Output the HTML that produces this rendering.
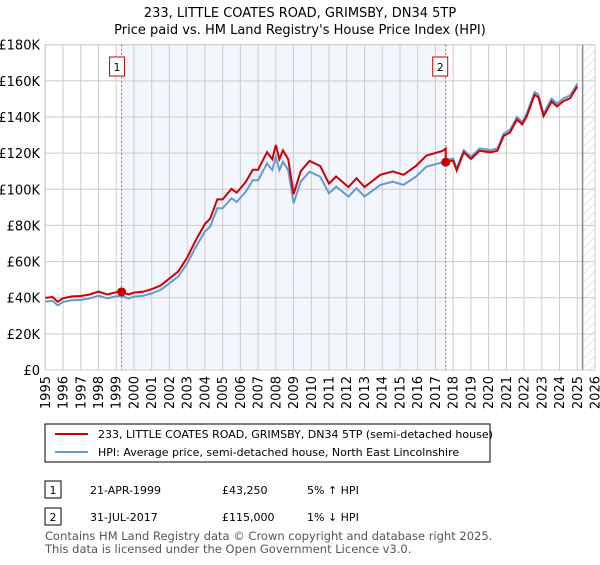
<!DOCTYPE html>
<html><head><meta charset="utf-8"><style>
body{margin:0;width:600px;height:560px;background:#fff;font-family:"Liberation Sans","DejaVu Sans",sans-serif;overflow:hidden}
svg text{font-family:"DejaVu Sans","Liberation Sans",sans-serif}
</style></head><body>
<svg id="c" width="600" height="560" xmlns="http://www.w3.org/2000/svg">
<defs><pattern id="hatch" width="6" height="6" patternUnits="userSpaceOnUse" patternTransform="rotate(45)"><line x1="0" y1="0" x2="0" y2="6" stroke="#ccc" stroke-width="1"/></pattern></defs>
<text x="300" y="17" text-anchor="middle" font-size="13">233, LITTLE COATES ROAD, GRIMSBY, DN34 5TP</text>
<text x="300" y="34" text-anchor="middle" font-size="13">Price paid vs. HM Land Registry's House Price Index (HPI)</text>
<g id="plot"></g>
<rect x="45" y="424" width="445" height="38" fill="#fff" stroke="#000" stroke-width="1"/>
<line x1="55" y1="434" x2="88" y2="434" stroke="#cc0000" stroke-width="2"/>
<text x="98" y="438" font-size="11">233, LITTLE COATES ROAD, GRIMSBY, DN34 5TP (semi-detached house)</text>
<line x1="55" y1="452" x2="88" y2="452" stroke="#6699d4" stroke-width="2"/>
<text x="98" y="456" font-size="11">HPI: Average price, semi-detached house, North East Lincolnshire</text>
<g>
<rect x="45" y="481" width="16" height="17" fill="#fff" stroke="#000"/><text x="53" y="494" text-anchor="middle" font-size="11">1</text>
<text x="90" y="494" font-size="11">21-APR-1999</text><text x="222" y="494" font-size="11">£43,250</text><text x="307" y="494" font-size="11">5% ↑ HPI</text></g>
<g>
<rect x="45" y="508" width="16" height="17" fill="#fff" stroke="#000"/><text x="53" y="521" text-anchor="middle" font-size="11">2</text>
<text x="90" y="521" font-size="11">31-JUL-2017</text><text x="222" y="521" font-size="11">£115,000</text><text x="307" y="521" font-size="11">1% ↓ HPI</text></g>
<text x="45" y="540" font-size="11.5" fill="#555">Contains HM Land Registry data © Crown copyright and database right 2025.</text>
<text x="45" y="553" font-size="11.5" fill="#555">This data is licensed under the Open Government Licence v3.0.</text>
</svg>
<script>
const hpiYears=[1995,1995.4,1995.7,1996,1996.5,1997,1997.5,1998,1998.5,1999,1999.3,1999.7,2000,2000.5,2001,2001.5,2002,2002.5,2003,2003.5,2004,2004.3,2004.7,2005,2005.5,2005.8,2006.3,2006.7,2007,2007.5,2007.8,2008,2008.2,2008.4,2008.7,2009,2009.4,2009.9,2010.5,2011,2011.4,2012.1,2012.55,2013,2013.9,2014.6,2015.2,2015.9,2016.5,2017.4,2017.58,2018,2018.2,2018.6,2019,2019.5,2020.1,2020.5,2020.85,2021.2,2021.6,2021.9,2022.15,2022.6,2022.8,2023.1,2023.55,2023.85,2024.2,2024.6,2025.0];
const hpiValues=[37.8,38.3,35.8,37.6,38.6,38.8,39.6,41.1,39.6,40.8,41.0,39.6,40.6,41.0,42.4,44.3,48,51.7,59,68.3,76.6,79.4,89.5,89.5,95,93,98.6,105,105,114.3,110.6,118,110.6,115.2,110.6,92.2,104.2,109.7,107,97.8,101.5,96,100.6,96,102.4,104.2,102.4,107,112.5,114.9,116.2,117,111.6,121.7,118,122.6,121.7,122.6,130.9,132.8,140,137.3,141.9,153.9,152.6,141.9,150.2,147.4,150.2,152,158.5];
const saleYears=[1999.3,2017.58];
const salePrices=[43.25,115];
const yTicks=[0,20,40,60,80,100,120,140,160,180];
const xTicks=[1995,1996,1997,1998,1999,2000,2001,2002,2003,2004,2005,2006,2007,2008,2009,2010,2011,2012,2013,2014,2015,2016,2017,2018,2019,2020,2021,2022,2023,2024,2025,2026];
const L=45.3,R=595,T=44.7,B=370;
const X=y=>L+(y-1995)/31*(R-L);
const Y=v=>B-v/180*(B-T);
const NS="http://www.w3.org/2000/svg";
const g=document.getElementById('plot');
function mk(t,a){const e=document.createElementNS(NS,t);for(const k in a)e.setAttribute(k,a[k]);g.appendChild(e);return e;}
function hpiAt(t){for(let i=1;i<hpiYears.length;i++){if(t<=hpiYears[i]){const f=(t-hpiYears[i-1])/(hpiYears[i]-hpiYears[i-1]);return hpiValues[i-1]+f*(hpiValues[i]-hpiValues[i-1]);}}return hpiValues[hpiValues.length-1];}
let e=mk('rect',{x:X(saleYears[0]),y:T,width:X(saleYears[1])-X(saleYears[0]),height:B-T,fill:'#eef2fc',opacity:0.7});


e=mk('rect',{x:X(2025.3),y:T,width:R-X(2025.3),height:B-T,fill:'url(#hatch)'});


yTicks.forEach(v=>{let l=mk('line',{x1:L,x2:R,y1:Y(v),y2:Y(v),stroke:'#ccc'});


let t=mk('text',{x:40,y:Y(v)+5,'text-anchor':'end','font-size':13});t.textContent=v===0?'£0':'£'+v+'K';

});
xTicks.forEach(v=>{let l=mk('line',{x1:X(v),x2:X(v),y1:T,y2:B,stroke:'#ccc'});


const tx=X(v)+4.5,ty=376;
let t=mk('text',{x:tx,y:ty,'text-anchor':'end','font-size':13,transform:'rotate(-90 '+tx+' '+ty+')'});t.textContent=v;

});
e=mk('line',{x1:X(2025.3),x2:X(2025.3),y1:T,y2:B,stroke:'#888','stroke-width':1.5});


e=mk('rect',{x:L,y:T,width:R-L,height:B-T,fill:'none',stroke:'#ccc'});


saleYears.forEach((s,i)=>{let l=mk('line',{x1:X(s),x2:X(s),y1:T,y2:B,stroke:'#e05050','stroke-dasharray':'2,2'});


let r=mk('rect',{x:X(s)-12+(i?-1:0),y:57,width:15,height:19,fill:'#fff',stroke:'#cc0000'});


let t=mk('text',{x:X(s)-4.5+(i?-1:0),y:71,'text-anchor':'middle','font-size':11});t.textContent=i+1;

});
const hp=hpiYears.map((y,i)=>X(y).toFixed(1)+','+Y(hpiValues[i]).toFixed(1)).join(' ');
e=mk('polyline',{points:hp,fill:'none',stroke:'#6699d4','stroke-width':2});


const f1=salePrices[0]/hpiAt(saleYears[0]),f2=salePrices[1]/hpiAt(saleYears[1]);
const rp=[];hpiYears.forEach((y,i)=>{if(y<saleYears[1])rp.push([y,hpiValues[i]*f1]);});
rp.push([saleYears[1],hpiAt(saleYears[1])*f1]);rp.push([saleYears[1],salePrices[1]]);
hpiYears.forEach((y,i)=>{if(y>saleYears[1])rp.push([y,hpiValues[i]*f2]);});
e=mk('polyline',{points:rp.map(p=>X(p[0]).toFixed(1)+','+Y(p[1]).toFixed(1)).join(' '),fill:'none',stroke:'#cc0000','stroke-width':2});


saleYears.forEach((s,i)=>{let c=mk('circle',{cx:X(s),cy:Y(salePrices[i]),r:4.5,fill:'#cc0000'});

});
</script>
</body></html>
